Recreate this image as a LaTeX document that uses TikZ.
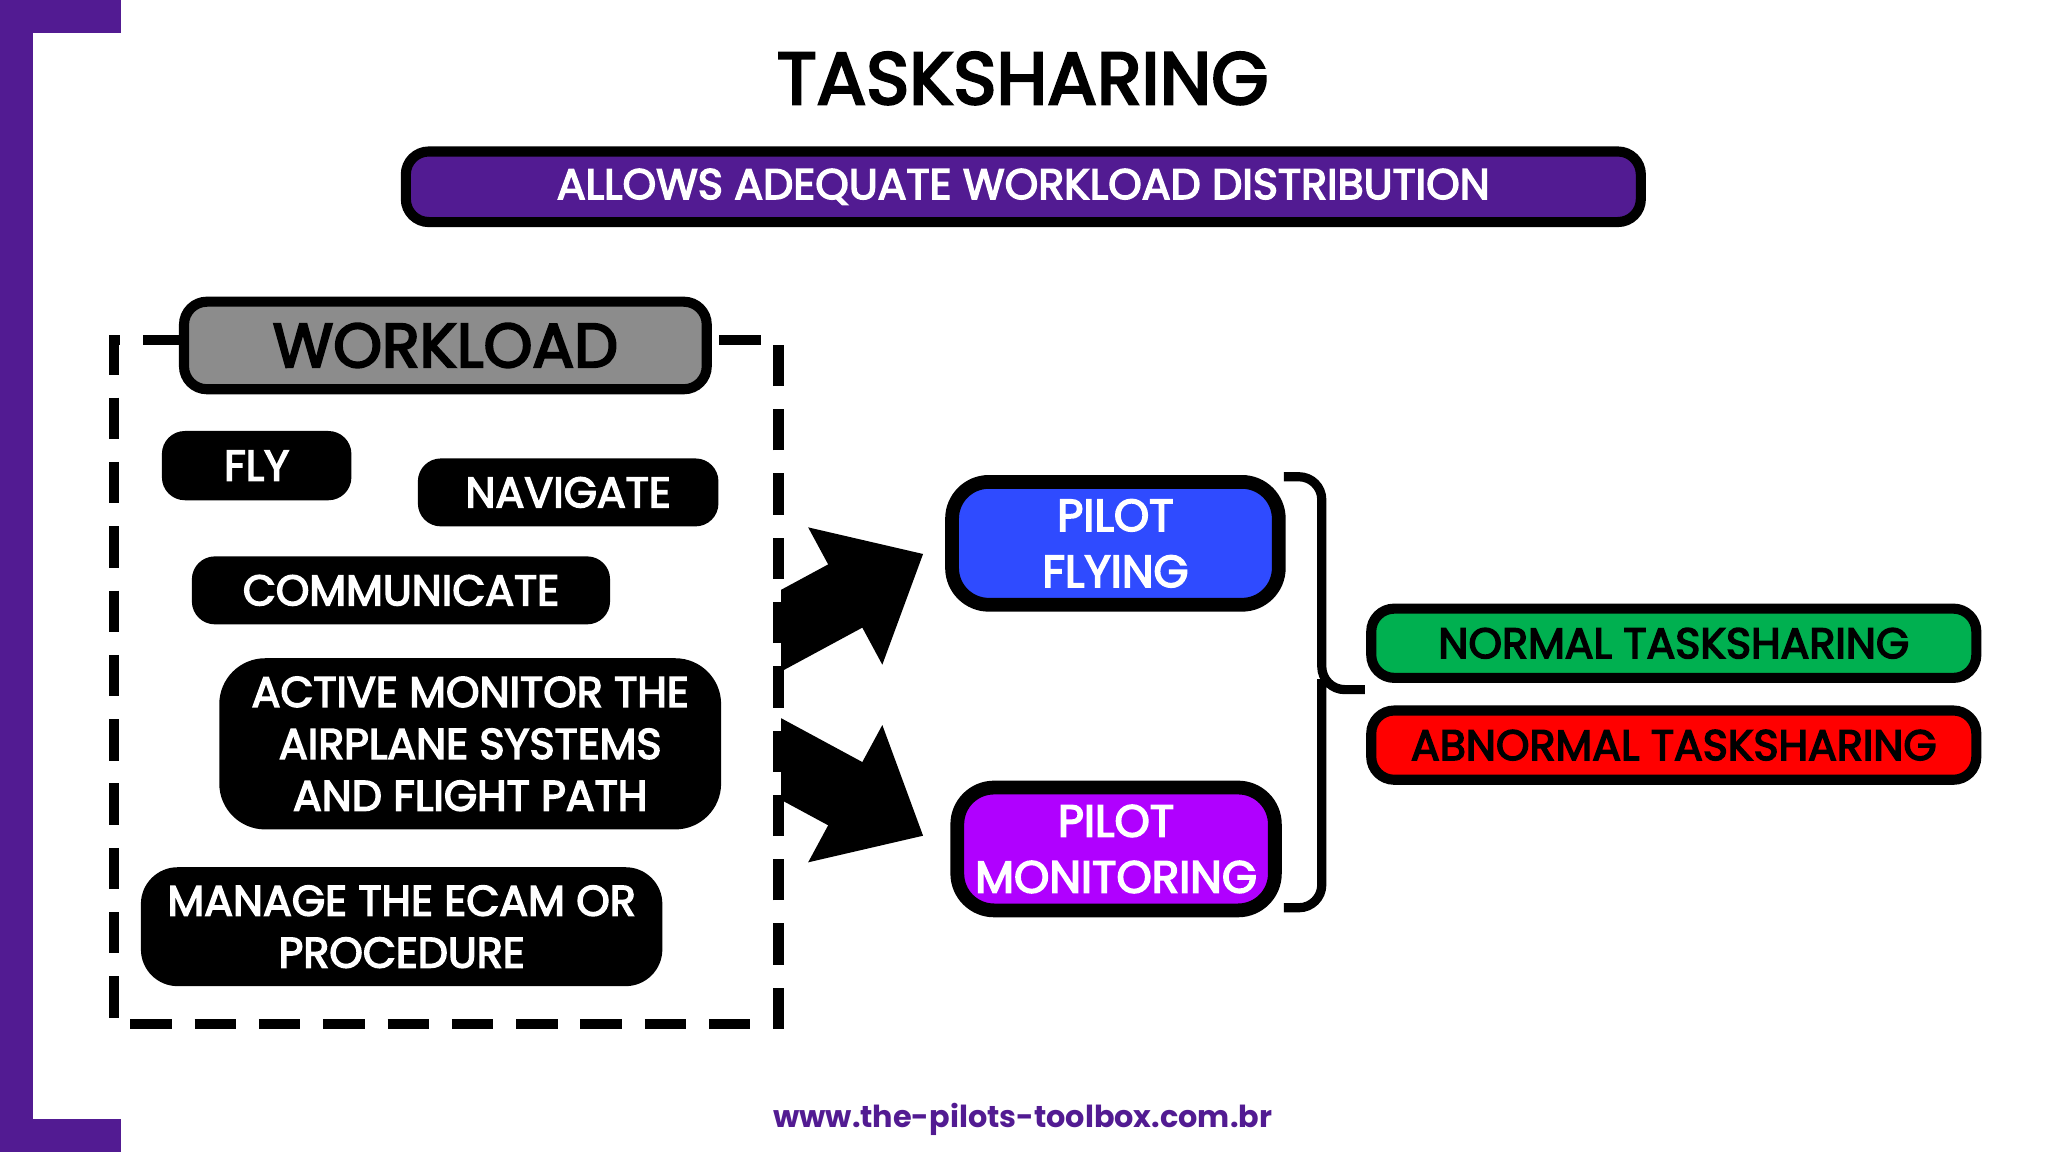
\documentclass[tikz,border=0pt]{standalone}
\usepackage{fontspec}
\setmainfont{Poppins}
\newfontfamily\med{Poppins}[FakeBold=3.5]
\usetikzlibrary{arrows.meta}
\definecolor{pp}{HTML}{521B92}
\definecolor{pfb}{HTML}{2F4BFF}
\definecolor{pmb}{HTML}{B000FF}
\definecolor{gn}{HTML}{00B050}
\begin{document}
\begin{tikzpicture}[x=0.01cm,y=-0.01cm,
 box/.style={draw=black,line width=2.2pt,rounded corners=5pt,inner sep=0pt,align=center},
 task/.style={fill=black,rounded corners=5pt,text=white,font=\med\fontsize{9.3}{11.3}\selectfont,align=center,inner sep=0pt},
 big/.style={line width=0.55cm,-{Triangle[length=0.68cm,width=1.15cm]}}]
\useasboundingbox (0,0) rectangle (1568,882);
\fill[pp] (0,0) rectangle (93,25);
\fill[pp] (0,0) rectangle (25,882);
\fill[pp] (0,857) rectangle (93,882);
\node (title) at (783,60) {\med\fontsize{16}{20}\selectfont TASKSHARING};
\node[box,fill=pp,text=white,minimum width=9.45cm,minimum height=0.54cm,font=\med\fontsize{9.3}{11}\selectfont] (banner) at (783.5,143) {ALLOWS ADEQUATE WORKLOAD DISTRIBUTION};
\draw[line width=2.2pt,dash pattern=on 9pt off 5pt] (141,260) -- (87,260) -- (87,784) -- (596,784) -- (596,260) -- (541,260);
\node[box,fill=gray!90!white,minimum width=4cm,minimum height=0.67cm,font=\med\fontsize{13.5}{16}\selectfont] (wl) at (341,264.5) {WORKLOAD};
\node[task,minimum width=1.45cm,minimum height=0.53cm] (fly) at (196.5,356.5) {FLY};
\node[task,minimum width=2.3cm,minimum height=0.52cm] (nav) at (435,377) {NAVIGATE};
\node[task,minimum width=3.2cm,minimum height=0.52cm] (com) at (307,452) {COMMUNICATE};
\node[task,rounded corners=10pt,minimum width=3.84cm,minimum height=1.31cm] (act) at (360,569.5) {ACTIVE MONITOR THE\\AIRPLANE SYSTEMS\\AND FLIGHT PATH};
\node[task,rounded corners=8pt,minimum width=3.99cm,minimum height=0.91cm] (man) at (307.5,709.5) {MANAGE THE ECAM OR\\PROCEDURE};
\node[box,line width=3pt,rounded corners=8pt,fill=pfb,text=white,minimum width=2.5cm,minimum height=0.94cm,font=\med\fontsize{9.8}{12.2}\selectfont] (pf) at (854,416) {PILOT\\FLYING};
\node[box,line width=3pt,rounded corners=8pt,fill=pmb,text=white,minimum width=2.43cm,minimum height=0.94cm,font=\med\fontsize{9.8}{12.2}\selectfont] (pm) at (854.5,650) {PILOT\\MONITORING};
\coordinate (a1) at (570,498);
\coordinate (t1) at (707,424);
\coordinate (a2) at (570,566);
\coordinate (t2) at (707,640);
\begin{scope}
\clip (598,300) rectangle (800,700);
\draw[big] (a1) -- (t1);
\draw[big] (a2) -- (t2);
\end{scope}
\coordinate (bt) at (983,365);
\coordinate (bb) at (983,695);
\coordinate (bm) at (1045,528);
\draw[line width=2pt,rounded corners=5pt] (bt) -- (1012,365) -- (1012,528) -- (bm) (1012,520) -- (1012,695) -- (bb);
\node[box,fill=gn,minimum width=4.63cm,minimum height=0.53cm,font=\med\fontsize{9.3}{11}\selectfont] (nt) at (1281.5,492.5) {NORMAL TASKSHARING};
\node[box,fill=red,minimum width=4.63cm,minimum height=0.53cm,font=\med\fontsize{9.3}{11}\selectfont] (at) at (1281.5,570.5) {ABNORMAL TASKSHARING};
\node[text=pp,font=\fontsize{6.6}{8}\selectfont\bfseries] (url) at (783,857) {www.the-pilots-toolbox.com.br};
\end{tikzpicture}
\end{document}
